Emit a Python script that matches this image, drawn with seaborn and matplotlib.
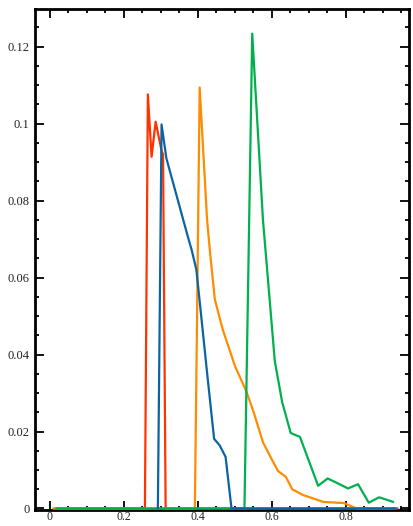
import matplotlib
matplotlib.use("Agg")
import matplotlib.pyplot as plt
from matplotlib.ticker import MultipleLocator, FixedLocator
import seaborn as sns
import pandas as pd

# values
red_x = [0.012, 0.257, 0.265, 0.275, 0.286, 0.302, 0.306, 0.313, 0.94]
red_y = [0.0, 0.0, 0.1076, 0.0914, 0.1005, 0.093, 0.092, 0.0, 0.0]

orange_x = [0.009, 0.392, 0.405, 0.425, 0.433, 0.446, 0.467, 0.5, 0.532, 0.551,
            0.576, 0.599, 0.617, 0.638, 0.655, 0.684, 0.739, 0.795, 0.829, 0.935]
orange_y = [0.0, 0.0, 0.1094, 0.075, 0.0665, 0.0543, 0.0466, 0.0371, 0.0302, 0.025,
            0.0172, 0.0129, 0.0097, 0.0082, 0.005, 0.0035, 0.0017, 0.0014, 0.0, 0.0]

green_x = [0.018, 0.526, 0.547, 0.576, 0.608, 0.628, 0.651, 0.676, 0.725, 0.751,
           0.806, 0.833, 0.862, 0.890, 0.928]
green_y = [0.0, 0.0, 0.1234, 0.075, 0.0383, 0.0276, 0.0196, 0.0186, 0.0059, 0.0078,
           0.0052, 0.0063, 0.0015, 0.0029, 0.0017]

blue_x = [0.292, 0.302, 0.315, 0.374, 0.383, 0.396, 0.41, 0.424, 0.444, 0.459,
          0.475, 0.491, 0.935]
blue_y = [0.0, 0.0998, 0.091, 0.0703, 0.0673, 0.0621, 0.0492, 0.0362, 0.0181, 0.0164,
          0.0134, 0.0, 0.0]

series = ["red", "orange", "green", "blue"]
colors = {"red": "#ff3300", "orange": "#ff8c00", "green": "#00b04c", "blue": "#0b64a2"}

frames = []
for name, xs, ys in [("red", red_x, red_y), ("orange", orange_x, orange_y),
                     ("green", green_x, green_y), ("blue", blue_x, blue_y)]:
    frames.append(pd.DataFrame({"x": xs, "y": ys, "s": name}))
df = pd.concat(frames, ignore_index=True)

sns.set_style("ticks")
plt.rcParams["font.family"] = ["Liberation Serif", "DejaVu Serif"]

fig = plt.figure(figsize=(4.14, 5.26), dpi=100)
ax = fig.add_axes([35 / 414, 16 / 526, 374.5 / 414, 501 / 526])

sns.lineplot(data=df, x="x", y="y", hue="s", hue_order=series, palette=colors,
             linewidth=1.6, legend=False, ax=ax, sort=False, estimator=None)
for ln in ax.lines:
    ln.set_clip_on(False)
    ln.set_zorder(3)

ax.set_xlim(-0.04, 0.972)
ax.set_ylim(-0.0004, 0.1298)
ax.xaxis.set_major_locator(FixedLocator([0, 0.2, 0.4, 0.6, 0.8]))
ax.xaxis.set_minor_locator(MultipleLocator(0.05))
ax.yaxis.set_major_locator(FixedLocator([0, 0.02, 0.04, 0.06, 0.08, 0.1, 0.12]))
ax.yaxis.set_minor_locator(MultipleLocator(0.005))
ax.set_xticklabels(["0", "0.2", "0.4", "0.6", "0.8"])
ax.set_yticklabels(["0", "0.02", "0.04", "0.06", "0.08", "0.1", "0.12"])

ax.tick_params(which="both", direction="in", top=True, right=True,
               width=1.3, color="black", labelcolor="#222222")
ax.tick_params(which="major", length=6.5)
ax.tick_params(which="minor", length=3.2)
ax.tick_params(axis="y", labelsize=9, pad=4)
ax.tick_params(axis="x", labelsize=8.5, pad=1)
for sp in ax.spines.values():
    sp.set_visible(True)
    sp.set_linewidth(2.0)
    sp.set_color("black")
ax.set_xlabel("")
ax.set_ylabel("")

fig.savefig("out.png", dpi=100)
